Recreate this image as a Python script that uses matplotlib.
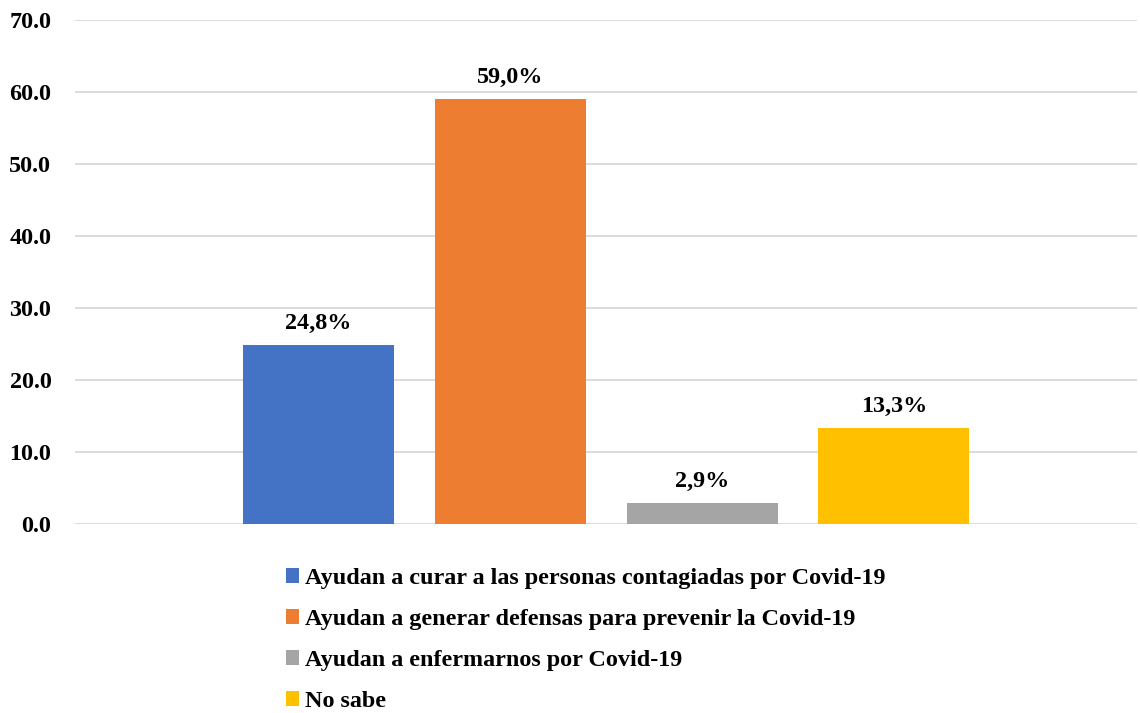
import matplotlib.pyplot as plt
import numpy as np

labels = ["Ayudan a curar a las personas contagiadas por Covid-19",
          "Ayudan a generar defensas para prevenir la Covid-19",
          "Ayudan a enfermarnos por Covid-19",
          "No sabe"]
values = [24.8, 59.0, 2.9, 13.3]
colors = ["#4472C4", "#ED7D31", "#A5A5A5", "#FFC000"]
yticks = [0, 10, 20, 30, 40, 50, 60, 70]

plt.rcParams['font.family'] = ['Liberation Serif', 'DejaVu Serif']
plt.rcParams['font.weight'] = 'bold'
fs = 17.4

fig = plt.figure(figsize=(11.4, 7.13), dpi=100)
ax = fig.add_axes([0.0658, 0.265, 0.932, 0.707])

step = 0.1805
width = 0.142
handles = []
for i, (v, c, lab) in enumerate(zip(values, colors, labels)):
    x = 0.5 + (i - 1.5) * step
    b = ax.bar(x, v, width=width, color=c, label=lab, zorder=3)
    handles.append(b)
    ax.text(x, v + 1.6, f"{v:.1f}%".replace(".", ","), ha='center', va='bottom',
            fontsize=fs, fontweight='bold')

ax.set_xlim(0, 1)
ax.set_ylim(0, 70)
ax.set_yticks(yticks)
ax.set_yticklabels([f"{t:.1f}" for t in yticks], fontsize=fs, fontweight='bold')
ax.set_xticks([])
ax.grid(axis='y', color='#D9D9D9', linewidth=1.3, zorder=0)
for s in ax.spines.values():
    s.set_visible(False)
ax.tick_params(axis='y', length=0, pad=17)

fig.legend(handles=handles, labels=labels, loc='upper left',
           bbox_to_anchor=(286 / 1140, 1 - 568 / 713), frameon=False,
           fontsize=fs, handlelength=0.55, handleheight=0.55,
           handletextpad=0.25, labelspacing=0.83, borderpad=0, borderaxespad=0)

fig.savefig("out.png", dpi=100)
